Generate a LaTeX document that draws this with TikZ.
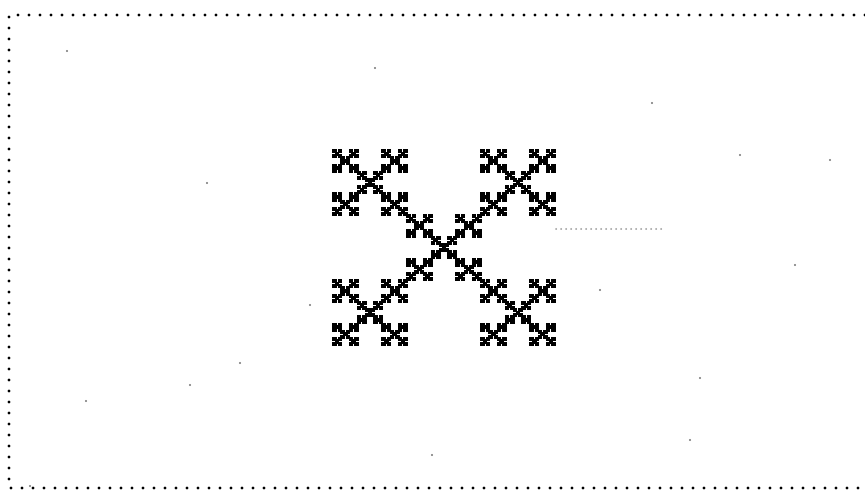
\documentclass[tikz,border=0pt]{standalone}
\usepackage{tikz}
\tikzset{
    frame/.style={
        line width=1.6pt,
        line cap=round,
        dash pattern=on 0pt off 5.5pt
    },
    cell/.style={
        fill=black,
        draw=black,
        line width=0.9pt
    },
    speck/.style={
        fill=black!55
    },
    smudge/.style={
        black!40,
        line width=1pt,
        line cap=round,
        dash pattern=on 0pt off 2.5pt
    }
}
\begin{document}
\begin{tikzpicture}[x=0.5pt, y=-0.5pt]
    \useasboundingbox (0,0) rectangle (865,491);
    % dotted frame, open on the right
    \coordinate (tl) at (9,15);
    \coordinate (tr) at (865,15);
    \coordinate (bl) at (9,488);
    \coordinate (br) at (865,488);
    \draw[frame] (tr) -- (tl) -- (bl) -- (br);
    % X-shaped fractal, four levels
    \begin{scope}[shift={(333,150)}, x=1.37pt, y=-1.205pt]
        \foreach \ax/\ay in {0/0,2/0,1/1,0/2,2/2}
        \foreach \bx/\by in {0/0,2/0,1/1,0/2,2/2}
        \foreach \cx/\cy in {0/0,2/0,1/1,0/2,2/2}
        \foreach \dx/\dy in {0/0,2/0,1/1,0/2,2/2}
            \fill[cell] ({27*\ax+9*\bx+3*\cx+\dx}, {27*\ay+9*\by+3*\cy+\dy})
                rectangle +(1,1);
    \end{scope}
    % faint mark beside the fractal
    \coordinate (ma) at (556,229);
    \coordinate (mb) at (664,229);
    \draw[smudge] (ma) -- (mb);
    % scanning specks
    \foreach \sx/\sy in {67/51, 375/68, 652/103, 207/183, 740/155, 830/160,
                         795/265, 700/378, 86/401, 30/486, 432/455, 690/440,
                         190/385, 240/363, 310/305, 600/290}
        \fill[speck] (\sx,\sy) circle (1.1);
\end{tikzpicture}
\end{document}
